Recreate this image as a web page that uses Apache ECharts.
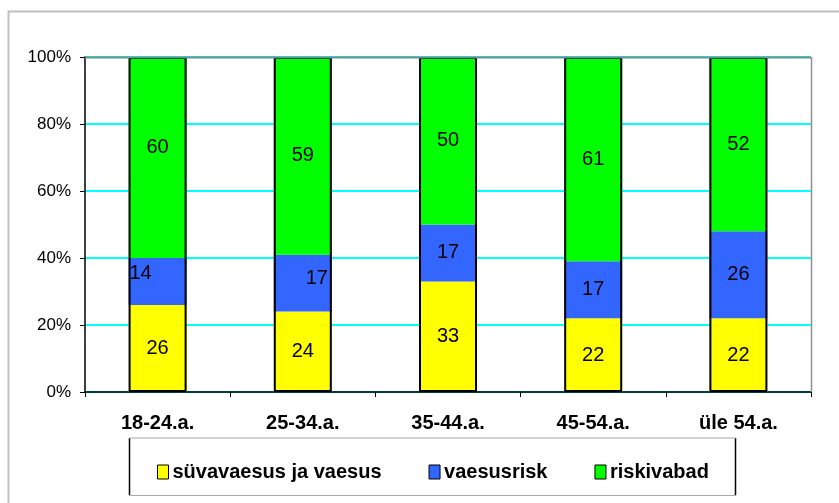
<!DOCTYPE html>
<html><head><meta charset="utf-8">
<script src="https://cdn.jsdelivr.net/npm/echarts@6/dist/echarts.min.js"></script>
<style>html,body{margin:0;padding:0;background:#fff}#c{width:839px;height:503px}</style>
</head><body><div id="c"></div>
<script>
const categories = ['18-24.a.', '25-34.a.', '35-44.a.', '45-54.a.', 'üle 54.a.'];
const seriesNames = ['süvavaesus ja vaesus', 'vaesusrisk', 'riskivabad'];
const deepPoverty = [26, 24, 33, 22, 22];
const povertyRisk = [14, 17, 17, 17, 26];
const riskFree = [60, 59, 50, 61, 52];
const yTicks = ['0%', '20%', '40%', '60%', '80%', '100%'];
const colors = ['#FFFF00', '#3366FF', '#00FF00'];

const values = [deepPoverty, povertyRisk, riskFree];
const totals = categories.map((_, i) => values.reduce((s, a) => s + a[i], 0));

// label nudges seen in the reference (series index, category index) -> [dx, dy]
const labelNudges = {'1-0': [-17, -8], '1-1': [14, -5], '2-0': [0, -10]};

const FONT = 'Arial, "Liberation Sans", sans-serif';
const chart = echarts.init(document.getElementById('c'), null, {renderer: 'canvas'});
const series = values.map((arr, k) => ({
  name: seriesNames[k],
  type: 'bar',
  stack: 'a',
  barWidth: 58,
  data: arr.map((v, i) => labelNudges[k + '-' + i] ? {value: v, label: {offset: labelNudges[k + '-' + i]}} : v),
  itemStyle: {color: colors[k]},
  label: {show: true, position: 'inside', color: '#000', fontFamily: FONT, fontSize: 20},
  emphasis: {disabled: true}
}));
series.push({
  name: 'outline', type: 'bar', barWidth: 58, barGap: '-100%', z: 5,
  data: totals, silent: true,
  itemStyle: {color: 'rgba(0,0,0,0)', borderColor: '#000', borderWidth: 2},
  label: {show: false}
});

chart.setOption({
  animation: false,
  graphic: [
    {type: 'rect', shape: {x: 8.5, y: 11.5, width: 900, height: 600}, style: {fill: 'none', stroke: '#c0c0c0', lineWidth: 2}, z: -1},
    {type: 'line', shape: {x1: 85, y1: 57.5, x2: 811, y2: 57.5}, style: {stroke: '#6f8f8f', lineWidth: 2}, z: 10},
    {type: 'line', shape: {x1: 811.5, y1: 57, x2: 811.5, y2: 392}, style: {stroke: '#909090', lineWidth: 1.5}, z: 10},
    {type: 'line', shape: {x1: 129.5, y1: 438, x2: 129.5, y2: 495}, style: {stroke: '#000', lineWidth: 1.5}},
    {type: 'line', shape: {x1: 735.5, y1: 438, x2: 735.5, y2: 495}, style: {stroke: '#000', lineWidth: 1.5}},
    {type: 'line', shape: {x1: 129, y1: 438, x2: 736, y2: 438}, style: {stroke: '#a8a8a8', lineWidth: 1}},
    {type: 'line', shape: {x1: 129, y1: 495.5, x2: 736, y2: 495.5}, style: {stroke: '#a8a8a8', lineWidth: 1}}
  ],
  grid: {left: 85, right: 28, top: 57, bottom: 111, containLabel: false},
  legend: {
    data: seriesNames,
    left: 152, top: 457,
    itemWidth: 11, itemHeight: 14, itemGap: 47,
    icon: 'rect',
    itemStyle: {borderColor: '#000', borderWidth: 1},
    textStyle: {fontFamily: FONT, fontSize: 20, lineHeight: 20, fontWeight: 'bold', color: '#000', padding: [0, 0, 0, -1]},
    selectedMode: false
  },
  xAxis: {
    type: 'category', data: categories,
    axisLine: {lineStyle: {color: '#000', width: 1.5}},
    axisTick: {show: true, length: 5, lineStyle: {color: '#000'}},
    axisLabel: {fontFamily: FONT, fontSize: 20, fontWeight: 'bold', color: '#000', margin: 21}
  },
  yAxis: {
    type: 'value', min: 0, max: 100, interval: 20,
    axisLine: {show: true, lineStyle: {color: '#000', width: 1.5}},
    axisTick: {show: true, length: 5, lineStyle: {color: '#000'}},
    axisLabel: {fontFamily: FONT, fontSize: 17, color: '#000', margin: 14,
      formatter: (v) => yTicks[Math.round(v / 20)]},
    splitLine: {show: true, lineStyle: {color: '#00FFFF', width: 2}}
  },
  series: series
});
</script></body></html>
